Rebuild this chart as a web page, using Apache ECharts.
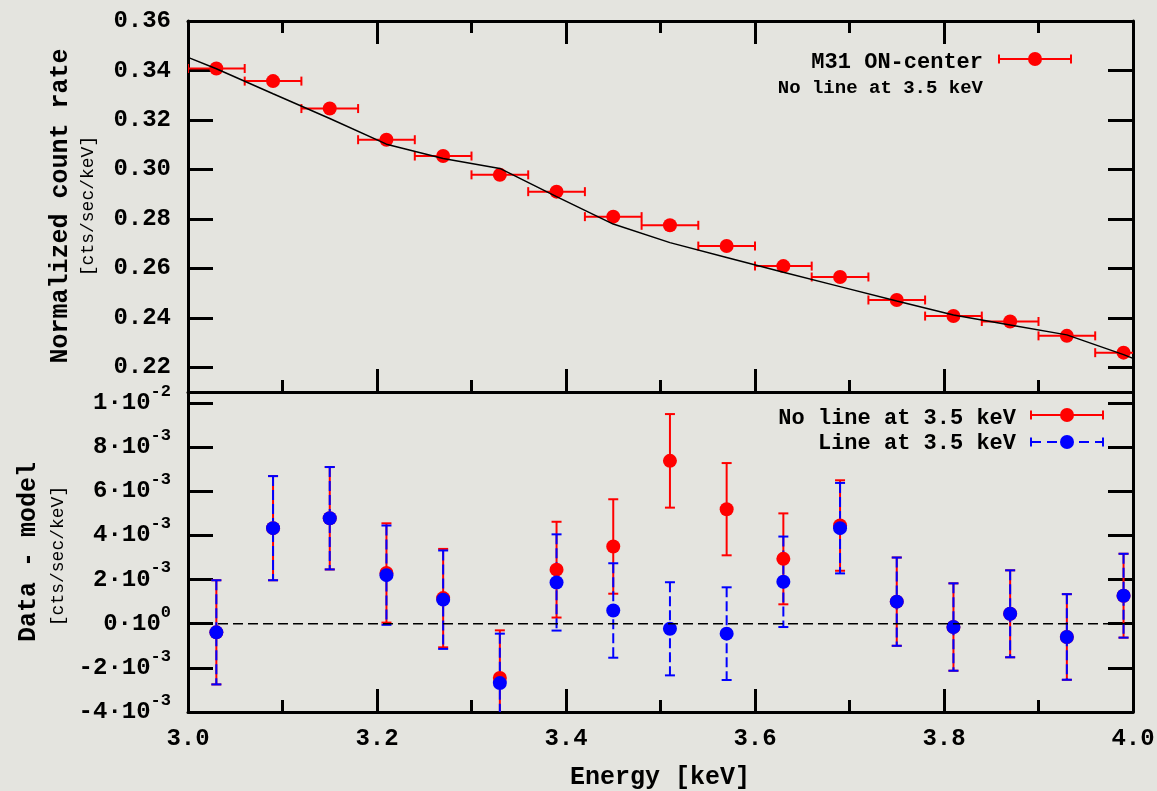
<!DOCTYPE html>
<html>
<head>
<meta charset="utf-8">
<script src="https://cdn.jsdelivr.net/npm/echarts@6/dist/echarts.min.js"></script>
<style>
html, body { margin: 0; padding: 0; background: #e4e4df; }
#chart { width: 1157px; height: 791px; }
</style>
</head>
<body>
<div id="chart"></div>
<script>
// bin centres [keV] and half width of a bin
var energy = [3.03, 3.09, 3.15, 3.21, 3.27, 3.33, 3.39, 3.45, 3.51, 3.57, 3.63, 3.69, 3.75, 3.81, 3.87, 3.93, 3.99];
var binHalf = 0.03;
// normalized count rate, M31 ON-center
var rate = [0.3408, 0.3357, 0.3246, 0.3120, 0.3054, 0.2978, 0.2910, 0.2809, 0.2774, 0.2690, 0.2609, 0.2565, 0.2472, 0.2407, 0.2385, 0.2327, 0.2259];
// model curve (no line at 3.5 keV)
var modelEnergy = [3.00, 3.03, 3.09, 3.15, 3.21, 3.27, 3.33, 3.39, 3.45, 3.51, 3.57, 3.63, 3.69, 3.75, 3.81, 3.87, 3.93, 3.99, 4.00];
var modelRate = [0.3453, 0.3407, 0.3306, 0.3206, 0.3102, 0.3044, 0.3004, 0.2890, 0.2779, 0.2704, 0.2644, 0.2584, 0.2526, 0.2468, 0.2411, 0.2371, 0.2331, 0.2251, 0.2236];
// residuals data - model
var resNoLine = [-0.00039, 0.00433, 0.00478, 0.0023, 0.00116, -0.00246, 0.00245, 0.0035, 0.00738, 0.00519, 0.00294, 0.00445, 0.0010, -0.00015, 0.00045, -0.0006, 0.00127];
var errNoLine = [0.00236, 0.00236, 0.00232, 0.00225, 0.00223, 0.00216, 0.00217, 0.00214, 0.00212, 0.00209, 0.00206, 0.00205, 0.0020, 0.00198, 0.00197, 0.00194, 0.0019];
var resLine = [-0.00039, 0.00433, 0.00478, 0.0022, 0.00109, -0.00269, 0.00187, 0.0006, -0.00023, -0.00045, 0.0019, 0.00433, 0.0010, -0.00015, 0.00045, -0.0006, 0.00127];
var errLine = [0.00236, 0.00236, 0.00232, 0.00225, 0.00223, 0.00224, 0.00218, 0.00214, 0.00211, 0.0021, 0.00205, 0.00205, 0.0020, 0.00198, 0.00197, 0.00194, 0.0019];
// tick labels
var topTicks = [0.22, 0.24, 0.26, 0.28, 0.30, 0.32, 0.34, 0.36];
var bottomTicks = [-0.004, -0.002, 0, 0.002, 0.004, 0.006, 0.008, 0.01];
var bottomTickMant = ['-4', '-2', '0', '2', '4', '6', '8', '1'];
var bottomTickExp = ['-3', '-3', '0', '-3', '-3', '-3', '-3', '-2'];

var FONT = 'Liberation Mono';
var RED = '#ff0000', BLUE = '#0000ff';

var myChart = echarts.init(document.getElementById('chart'));

// horizontal error bar (energy bin)
function renderXErr (params, api) {
	var y = api.value(1);
	var p1 = api.coord([api.value(0) - api.value(2), y]);
	var p2 = api.coord([api.value(0) + api.value(2), y]);
	var st = { stroke: RED, lineWidth: 2 };
	return {
		type: 'group',
		children: [
			{ type: 'line', shape: { x1: p1[0], y1: p1[1], x2: p2[0], y2: p2[1] }, style: st },
			{ type: 'line', shape: { x1: p1[0], y1: p1[1] - 4.5, x2: p1[0], y2: p1[1] + 4.5 }, style: st },
			{ type: 'line', shape: { x1: p2[0], y1: p2[1] - 4.5, x2: p2[0], y2: p2[1] + 4.5 }, style: st }
		]
	};
}

// vertical error bar, color / dash
function makeYErr (color, dash) {
	return function (params, api) {
		var x = api.value(0);
		var p1 = api.coord([x, api.value(1) + api.value(2)]);
		var p2 = api.coord([x, api.value(1) - api.value(2)]);
		var cap = { stroke: color, lineWidth: 2 };
		return {
			type: 'group',
			children: [
				{ type: 'line', shape: { x1: p1[0], y1: p1[1], x2: p2[0], y2: p2[1] }, style: { stroke: color, lineWidth: 2, lineDash: dash } },
				{ type: 'line', shape: { x1: p1[0] - 5, y1: p1[1], x2: p1[0] + 5, y2: p1[1] }, style: cap },
				{ type: 'line', shape: { x1: p2[0] - 5, y1: p2[1], x2: p2[0] + 5, y2: p2[1] }, style: cap }
			]
		};
	};
}

function xAx (grid, pos, showLabel) {
	return {
		type: 'value', gridIndex: grid, position: pos,
		min: 3, max: 4, interval: 0.2,
		axisLine: { show: true, onZero: false, lineStyle: { color: '#000', width: 3 } },
		axisTick: { show: true, inside: true, length: 23, lineStyle: { color: '#000', width: 3 } },
		minorTick: { show: true, splitNumber: 2, length: 12, lineStyle: { color: '#000', width: 3 } },
		splitLine: { show: false },
		minorSplitLine: { show: false },
		axisLabel: {
			show: showLabel, margin: 15, color: '#000',
			fontFamily: FONT, fontWeight: 'bold', fontSize: 24,
			formatter: function (v) { return v.toFixed(1); }
		}
	};
}

function yAx (grid, pos, min, max, ticks, label) {
	return {
		type: 'value', gridIndex: grid, position: pos,
		min: min, max: max,
		axisLine: { show: true, onZero: false, lineStyle: { color: '#000', width: 3 } },
		axisTick: { show: true, inside: true, length: 25, customValues: ticks, lineStyle: { color: '#000', width: 3 } },
		splitLine: { show: false },
		axisLabel: label ? label : { show: false }
	};
}

var topLabel = {
	show: true, customValues: topTicks, margin: 17, color: '#000',
	fontFamily: FONT, fontWeight: 'bold', fontSize: 24, hideOverlap: false,
	formatter: function (v) { return v.toFixed(2); }
};

var bottomLabel = {
	show: true, customValues: bottomTicks, margin: 17, color: '#000', hideOverlap: false,
	formatter: function (v) {
		var k = 0;
		for (var i = 0; i < bottomTicks.length; i++) {
			if (Math.abs(bottomTicks[i] - v) < 1e-7) k = i;
		}
		return '{m|' + bottomTickMant[k] + '·10}{e|' + bottomTickExp[k] + '}';
	},
	rich: {
		m: { fontFamily: FONT, fontWeight: 'bold', fontSize: 24, color: '#000', lineHeight: 40 },
		e: { fontFamily: FONT, fontWeight: 'bold', fontSize: 17, color: '#000', lineHeight: 18, verticalAlign: 'top' }
	}
};

var topPoints = energy.map(function (e, i) { return [e, rate[i], binHalf]; });
var modelData = modelEnergy.map(function (e, i) { return [e, modelRate[i]]; });
var noLineData = energy.map(function (e, i) { return [e, resNoLine[i], errNoLine[i]]; });
var lineData = energy.map(function (e, i) { return [e, resLine[i], errLine[i]]; });

var txt = function (s, x, y, size, weight, rot, align) {
	return {
		type: 'text', x: x, y: y, rotation: rot || 0, z: 100,
		style: {
			text: s, fill: '#000', font: (weight || 'bold') + ' ' + size + 'px "' + FONT + '"',
			align: align || 'center', verticalAlign: 'middle',
			textAlign: align || 'center', textVerticalAlign: 'middle'
		}
	};
};

var option = {
	backgroundColor: '#e4e4df',
	animation: false,
	grid: [
		{ left: 188, top: 21, width: 945, height: 371, outerBoundsMode: 'none' },
		{ left: 188, top: 392, width: 945, height: 320, outerBoundsMode: 'none' }
	],
	xAxis: [ xAx(0, 'bottom', false), xAx(0, 'top', false), xAx(1, 'bottom', true) ],
	yAxis: [
		yAx(0, 'left', 0.21, 0.36, topTicks, topLabel),
		yAx(0, 'right', 0.21, 0.36, topTicks, null),
		yAx(1, 'left', -0.004, 0.0105, bottomTicks, bottomLabel),
		yAx(1, 'right', -0.004, 0.0105, bottomTicks, null)
	],
	series: [
		{
			type: 'custom', xAxisIndex: 0, yAxisIndex: 0, clip: true,
			renderItem: renderXErr, data: topPoints, encode: { x: 0, y: 1 }
		},
		{
			type: 'scatter', xAxisIndex: 0, yAxisIndex: 0, symbolSize: 14,
			itemStyle: { color: RED, opacity: 1 }, data: topPoints
		},
		{
			type: 'line', xAxisIndex: 0, yAxisIndex: 0, symbol: 'none', smooth: false,
			lineStyle: { color: '#000', width: 1.5 }, data: modelData, z: 3
		},
		{
			type: 'line', xAxisIndex: 2, yAxisIndex: 2, symbol: 'none',
			lineStyle: { color: '#000', width: 1.5, type: [10, 5] }, data: [[3, 0], [4, 0]]
		},
		{
			type: 'custom', xAxisIndex: 2, yAxisIndex: 2, clip: true,
			renderItem: makeYErr(RED, null), data: noLineData, encode: { x: 0, y: 1 }
		},
		{
			type: 'custom', xAxisIndex: 2, yAxisIndex: 2, clip: true,
			renderItem: makeYErr(BLUE, [10, 4]), data: lineData, encode: { x: 0, y: 1 }
		},
		{
			type: 'scatter', xAxisIndex: 2, yAxisIndex: 2, symbolSize: 14,
			itemStyle: { color: RED, opacity: 1 }, data: noLineData
		},
		{
			type: 'scatter', xAxisIndex: 2, yAxisIndex: 2, symbolSize: 14,
			itemStyle: { color: BLUE, opacity: 1 }, data: lineData
		}
	],
	graphic: [
		// axis titles
		txt('Normalized count rate', 61, 206, 25, 'bold', Math.PI / 2),
		txt('[cts/sec/keV]', 88, 206, 18, 'normal', Math.PI / 2),
		txt('Data - model', 29, 552, 25, 'bold', Math.PI / 2),
		txt('[cts/sec/keV]', 58, 556, 18, 'normal', Math.PI / 2),
		txt('Energy [keV]', 660, 778, 25, 'bold'),
		// top legend
		txt('M31 ON-center', 983, 62, 22, 'bold', 0, 'right'),
		txt('No line at 3.5 keV', 983, 88, 19, 'bold', 0, 'right'),
		{ type: 'line', z: 100, shape: { x1: 999, y1: 59, x2: 1071, y2: 59 }, style: { stroke: RED, lineWidth: 2 } },
		{ type: 'line', z: 100, shape: { x1: 999, y1: 54.5, x2: 999, y2: 63.5 }, style: { stroke: RED, lineWidth: 2 } },
		{ type: 'line', z: 100, shape: { x1: 1071, y1: 54.5, x2: 1071, y2: 63.5 }, style: { stroke: RED, lineWidth: 2 } },
		{ type: 'circle', z: 101, shape: { cx: 1035, cy: 59, r: 7 }, style: { fill: RED } },
		// bottom legend
		txt('No line at 3.5 keV', 1016, 418, 22, 'bold', 0, 'right'),
		txt('Line at 3.5 keV', 1016, 443, 22, 'bold', 0, 'right'),
		{ type: 'line', z: 100, shape: { x1: 1031, y1: 415, x2: 1103, y2: 415 }, style: { stroke: RED, lineWidth: 2 } },
		{ type: 'line', z: 100, shape: { x1: 1031, y1: 410.5, x2: 1031, y2: 419.5 }, style: { stroke: RED, lineWidth: 2 } },
		{ type: 'line', z: 100, shape: { x1: 1103, y1: 410.5, x2: 1103, y2: 419.5 }, style: { stroke: RED, lineWidth: 2 } },
		{ type: 'circle', z: 101, shape: { cx: 1067, cy: 415, r: 7 }, style: { fill: RED } },
		{ type: 'line', z: 100, shape: { x1: 1031, y1: 442, x2: 1103, y2: 442 }, style: { stroke: BLUE, lineWidth: 2, lineDash: [10, 6] } },
		{ type: 'line', z: 100, shape: { x1: 1031, y1: 437.5, x2: 1031, y2: 446.5 }, style: { stroke: BLUE, lineWidth: 2 } },
		{ type: 'line', z: 100, shape: { x1: 1103, y1: 437.5, x2: 1103, y2: 446.5 }, style: { stroke: BLUE, lineWidth: 2 } },
		{ type: 'circle', z: 101, shape: { cx: 1067, cy: 442, r: 7 }, style: { fill: BLUE } }
	]
};

myChart.setOption(option);
</script>
</body>
</html>
